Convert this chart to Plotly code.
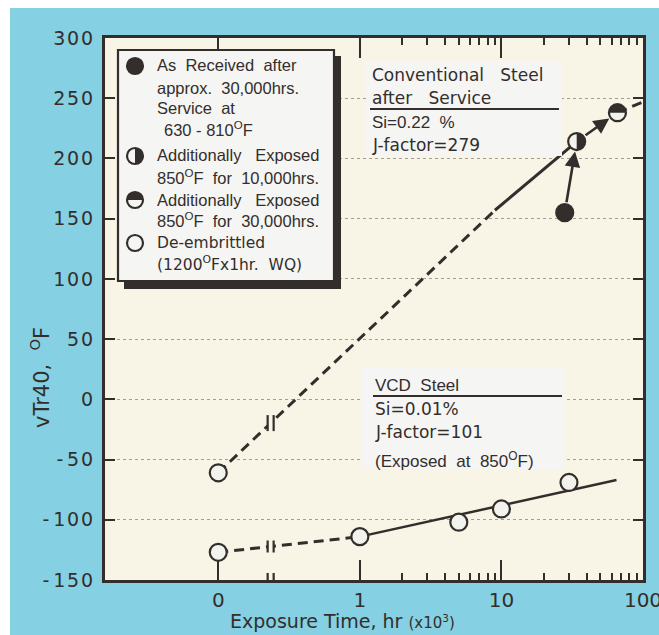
import numpy as np
import plotly.graph_objects as go

# ---------------- data (exposure time in 10^3 hr, vTr40 in deg F) ----------------
CONV_DEEMB_T = [0]
CONV_DEEMB_V = [-61]
CONV_ASREC_T = [28]
CONV_ASREC_V = [155]
CONV_EXP10_T = [34]
CONV_EXP10_V = [214]
CONV_EXP30_T = [66]
CONV_EXP30_V = [238]
CONV_DASH_T = [0, 9]
CONV_DASH_V = [-61, 157]
CONV_SOLID_T = [9, 34]
CONV_SOLID_V = [157, 214]
CONV_TAIL_T = [66, 100]
CONV_TAIL_V = [238, 247]

VCD_T = [0, 1, 5, 10, 30]
VCD_V = [-127, -114, -102, -91, -69]
VCD_DASH_T = [0, 1]
VCD_DASH_V = [-127, -114]
VCD_SOLID_T = [1, 65]
VCD_SOLID_V = [-114, -67]

Y_TICKS = [-150, -100, -50, 0, 50, 100, 150, 200, 250, 300]
X_TICK_T = [0, 1, 10, 100]
X_TICK_LABELS = ["0", "1", "10", "100"]
X_MINOR_T = [2, 3, 4, 5, 6, 7, 8, 9, 20, 30, 40, 50, 60, 70, 80, 90]

# ---------------- styling ----------------
W, H = 659, 635
ML, MR, MT, MB = 105, 16, 38, 55
CYAN = "#85d0e2"
CREAM = "#f8f5e7"
BOXBG = "#f5f5f3"
INK = "#332e2b"
GRID = "#a09e98"
ZERO_POS = -1.0      # axis position where t = 0 is drawn
BREAK_POS = -0.63    # axis position of the scale break
X_RANGE = [-1.8, 2.0]
DASH = "10px,6px"


def xpos(t):
    return [ZERO_POS if v == 0 else float(np.log10(v)) for v in t]


def px2x(px):
    return (px - ML) / (W - ML - MR)


def py2y(py):
    return (H - MB - py) / (H - MT - MB)


fig = go.Figure()

# trend lines
def line(t, v, dash, width=3):
    fig.add_trace(go.Scatter(x=xpos(t), y=v, mode="lines",
                             line=dict(color=INK, width=width, dash=dash),
                             showlegend=False, hoverinfo="skip"))

line(CONV_DASH_T, CONV_DASH_V, DASH)
line(CONV_SOLID_T, CONV_SOLID_V, "solid")
line(CONV_TAIL_T, CONV_TAIL_V, DASH)
line(VCD_DASH_T, VCD_DASH_V, DASH)
line(VCD_SOLID_T, VCD_SOLID_V, "solid", 2.5)

# markers
def pts(t, v, fill):
    fig.add_trace(go.Scatter(x=xpos(t), y=v, mode="markers",
                             marker=dict(symbol="circle", size=17, color=fill,
                                         line=dict(color=INK, width=2.2)),
                             showlegend=False, hoverinfo="skip"))

pts(CONV_DEEMB_T, CONV_DEEMB_V, "#f3f3ee")
pts(VCD_T, VCD_V, "#f3f3ee")
pts(CONV_ASREC_T, CONV_ASREC_V, INK)
pts(CONV_EXP10_T, CONV_EXP10_V, "#f3f3ee")
pts(CONV_EXP30_T, CONV_EXP30_V, "#f3f3ee")

K = 0.5523


def half_path(r, side):
    k = K * r
    if side == "right":
        return (f"M0,{r} C{k},{r} {r},{k} {r},0 C{r},{-k} {k},{-r} 0,{-r} Z")
    return (f"M{-r},0 C{-r},{k} {-k},{r} 0,{r} C{k},{r} {r},{k} {r},0 Z")


def half_shape(xref, yref, xa, ya, side, r=8.5):
    fig.add_shape(type="path", xref=xref, yref=yref,
                  xsizemode="pixel", ysizemode="pixel",
                  xanchor=xa, yanchor=ya, path=half_path(r, side),
                  fillcolor=INK, line=dict(width=0), layer="above")

half_shape("x", "y", xpos(CONV_EXP10_T)[0], CONV_EXP10_V[0], "right")
half_shape("x", "y", xpos(CONV_EXP30_T)[0], CONV_EXP30_V[0], "top")

# arrows
def arrow(t0, v0, t1, v1):
    fig.add_annotation(x=xpos([t1])[0], y=v1, ax=xpos([t0])[0], ay=v0,
                       xref="x", yref="y", axref="x", ayref="y", text="",
                       showarrow=True, arrowhead=2, arrowsize=1.2,
                       arrowwidth=2.6, arrowcolor=INK, standoff=10,
                       startstandoff=9)

arrow(CONV_ASREC_T[0], CONV_ASREC_V[0], CONV_EXP10_T[0], CONV_EXP10_V[0])
arrow(CONV_EXP10_T[0], CONV_EXP10_V[0], CONV_EXP30_T[0], CONV_EXP30_V[0])

# scale-break symbols
def brk(yv, h=7, gap_h=None):
    gh = h if gap_h is None else gap_h
    fig.add_shape(type="rect", xref="x", yref="y", xsizemode="pixel",
                  ysizemode="pixel", xanchor=BREAK_POS, yanchor=yv,
                  x0=-2.5, x1=2.5, y0=-gh, y1=gh, fillcolor=CREAM,
                  line=dict(width=0), layer="above")
    for dx in (-3, 3):
        fig.add_shape(type="line", xref="x", yref="y", xsizemode="pixel",
                      ysizemode="pixel", xanchor=BREAK_POS, yanchor=yv,
                      x0=dx, x1=dx, y0=-h, y1=h,
                      line=dict(color=INK, width=2.2), layer="above")

brk(float(np.interp(BREAK_POS, xpos(CONV_DASH_T), CONV_DASH_V)), 8, 5)
brk(float(np.interp(BREAK_POS, xpos(VCD_DASH_T), VCD_DASH_V)), 6, 4)
brk(Y_TICKS[0], 7, 2.5)

# ---------------- decorative frame & boxes (paper coords) ----------------
def prect(x0, y0, x1, y1, fill, lw=0, lc=INK):
    fig.add_shape(type="rect", xref="paper", yref="paper",
                  x0=px2x(x0), x1=px2x(x1), y0=py2y(y1), y1=py2y(y0),
                  fillcolor=fill, line=dict(width=lw, color=lc), layer="above")

prect(0, 0, W, 8, "white")
prect(0, 0, 10, H, "white")

# legend box with shadow
prect(124, 56, 341, 289, INK)
prect(118, 50, 334, 281, BOXBG, 2.2)

# conventional box
prect(366, 61, 562, 156, BOXBG)
fig.add_shape(type="line", xref="paper", yref="paper", x0=px2x(370), x1=px2x(559),
              y0=py2y(109), y1=py2y(109), line=dict(color=INK, width=2.2),
              layer="above")
# VCD box
prect(362, 367, 564, 469, BOXBG)
fig.add_shape(type="line", xref="paper", yref="paper", x0=px2x(373), x1=px2x(562),
              y0=py2y(396), y1=py2y(396), line=dict(color=INK, width=2.2),
              layer="above")

# legend symbols
def lcircle(px, py, fill, r=8):
    fig.add_shape(type="circle", xref="paper", yref="paper",
                  xsizemode="pixel", ysizemode="pixel",
                  xanchor=px2x(px), yanchor=py2y(py), x0=-r, x1=r, y0=-r, y1=r,
                  fillcolor=fill, line=dict(color=INK, width=2.2), layer="above")

lcircle(135, 66, INK)
lcircle(135, 156, BOXBG)
half_shape("paper", "paper", px2x(135), py2y(156), "right", 8)
lcircle(135, 200, BOXBG)
half_shape("paper", "paper", px2x(135), py2y(200), "top", 8)
lcircle(135, 243, BOXBG)

NB = "\u00a0"


def txt(text, px, py, size=16, family="Liberation Sans", xanchor="left",
        angle=0):
    fig.add_annotation(x=px2x(px), y=py2y(py), xref="paper", yref="paper",
                       text=text, showarrow=False, xanchor=xanchor,
                       yanchor="middle", textangle=angle,
                       font=dict(size=size, family=family, color=INK))

DEG = "<sup>O</sup>"
LS = "Liberation Sans"
DJ = "DejaVu Sans"
txt(f"As{NB}{NB}Received{NB}{NB}after", 155, 65, 16.5, LS)
txt(f"approx.{NB}{NB}30,000hrs.", 155, 88, 16.5, LS)
txt(f"Service{NB}{NB}at", 155, 108, 16.5, LS)
txt(f"630{NB}-{NB}810{DEG}F", 162, 129, 16.5, LS)
txt(f"Additionally{NB}{NB}{NB}Exposed", 155, 155, 16.5, LS)
txt(f"850{DEG}F{NB}{NB}for{NB}{NB}10,000hrs.", 155, 177, 16.5, LS)
txt(f"Additionally{NB}{NB}{NB}Exposed", 155, 200, 16.5, LS)
txt(f"850{DEG}F{NB}{NB}for{NB}{NB}30,000hrs.", 155, 220, 16.5, LS)
txt("De-embrittled", 155, 243, 15.5, DJ)
txt(f"(1200{DEG}Fx1hr.{NB}{NB}WQ)", 155, 263, 15.5, DJ)

txt(f"Conventional{NB}{NB}{NB}Steel", 370, 75, 17, DJ)
txt(f"after{NB}{NB}{NB}Service", 370, 98, 17, DJ)
txt(f"Si=0.22{NB}{NB}%", 370, 122, 17, LS)
txt("J-factor=279", 370, 145, 17, DJ)

txt(f"VCD{NB}{NB}Steel", 373, 385, 17, LS)
txt("Si=0.01%", 373, 409, 17, DJ)
txt("J-factor=101", 373, 432, 17, DJ)
txt(f"(Exposed{NB}{NB}at{NB}{NB}850{DEG}F)", 373, 460, 17, LS)

# axis titles
txt(f"vTr40,{NB}{NB}{DEG}F", 40, 378, 21, DJ, xanchor="center", angle=-90)
txt("Exposure Time, hr <span style='font-size:15px'>(x10<sup>3</sup>)</span>",
    342, 621, 19, DJ, xanchor="center")

# ---------------- axes ----------------
tick_font = dict(size=19, family=DJ, color=INK)
ytext = [("-\u2009" + "\u200a".join(str(abs(v)))) if v < 0
         else "\u200a".join(str(v)) for v in Y_TICKS]

xaxis_common = dict(range=X_RANGE, tickmode="array", tickvals=xpos(X_TICK_T),
                    ticks="inside", ticklen=20, tickwidth=2, tickcolor=INK,
                    minor=dict(tickmode="array", tickvals=xpos(X_MINOR_T),
                               ticks="inside", ticklen=7, tickwidth=1.6,
                               tickcolor=INK, showgrid=False),
                    showgrid=False, zeroline=False, automargin=False,
                    fixedrange=True)

fig.update_layout(
    width=W, height=H,
    margin=dict(l=ML, r=MR, t=MT, b=MB),
    paper_bgcolor=CYAN, plot_bgcolor=CREAM,
    showlegend=False,
    xaxis=dict(**xaxis_common, ticktext=X_TICK_LABELS, showline=True,
               linewidth=3, linecolor=INK, mirror=True,
               tickfont=dict(size=20, family=DJ, color=INK),
               ticklabeloverflow="allow", ticklabelstandoff=0),
    xaxis2=dict(**xaxis_common, overlaying="x", side="top", matches="x",
                showticklabels=False, showline=False),
    yaxis=dict(range=[Y_TICKS[0], Y_TICKS[-1]], tickmode="array",
               tickvals=Y_TICKS, ticktext=ytext, ticks="inside", ticklen=10,
               tickwidth=2.2, tickcolor=INK, mirror="ticks", showline=True,
               linewidth=3, linecolor=INK, showgrid=True, gridcolor=GRID,
               griddash="dot", gridwidth=1, zeroline=False,
               tickfont=tick_font, automargin=False, fixedrange=True,
               ticklabelstandoff=5),
)
fig.add_trace(go.Scatter(x=[], y=[], xaxis="x2", showlegend=False))

fig.write_html("out.html", config={"displayModeBar": False},
               post_script="document.body.style.margin='0';"
                           "document.body.style.overflow='hidden';")
